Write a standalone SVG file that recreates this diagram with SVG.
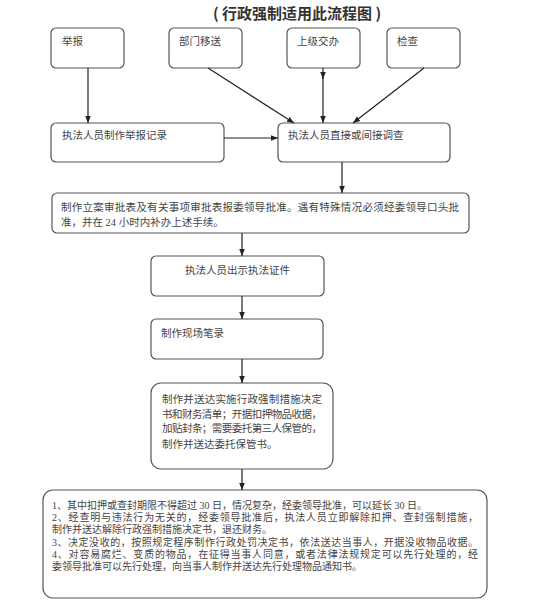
<svg xmlns="http://www.w3.org/2000/svg" width="537" height="605" viewBox="0 0 537 605">
<defs>
<marker id="ah" viewBox="0 0 10 10" refX="10" refY="5" markerWidth="7" markerHeight="7" orient="auto" markerUnits="userSpaceOnUse">
<path d="M0,1 L10,5 L0,9 Z" fill="#222"/>
</marker>
<style>
.box{fill:#fff;stroke:#555;stroke-width:1.2}
.t{font-family:"Liberation Serif","Noto Sans CJK SC",serif;font-size:10.5px;fill:#444}
.s{font-family:"Liberation Serif","Noto Sans CJK SC",serif;font-size:10px;fill:#444}
.c{fill:none;stroke:#222;stroke-width:1.2;marker-end:url(#ah)}
</style>
</defs>
<rect width="537" height="605" fill="#fff"/>
<text x="297" y="19" text-anchor="middle" font-family="'Noto Sans CJK SC','Liberation Sans',sans-serif" font-size="15" font-weight="bold" fill="#333">( 行政强制适用此流程图 )</text>

<g id="n1"><rect class="box" x="51" y="28" width="73" height="40" rx="5"/><text class="t" x="62" y="45">举报</text></g>
<g id="n2"><rect class="box" x="169" y="28" width="73" height="40" rx="5"/><text class="t" x="179" y="45">部门移送</text></g>
<g id="n3"><rect class="box" x="287" y="28" width="73" height="40" rx="5"/><text class="t" x="297" y="45">上级交办</text></g>
<g id="n4"><rect class="box" x="387" y="28" width="73" height="40" rx="5"/><text class="t" x="397" y="45">检查</text></g>
<g id="n5"><rect class="box" x="51" y="123" width="173" height="39" rx="5"/><text class="t" x="62" y="139">执法人员制作举报记录</text></g>
<g id="n6"><rect class="box" x="278" y="123" width="172" height="39" rx="5"/><text class="t" x="288" y="139">执法人员直接或间接调查</text></g>
<g id="n7"><rect class="box" x="52" y="193" width="417" height="40" rx="5"/>
<text class="t" x="61" y="211" textLength="398">制作立案审批表及有关事项审批表报委领导批准。遇有特殊情况必须经委领导口头批</text>
<text class="t" x="61" y="226">准，并在 24 小时内补办上述手续。</text></g>
<g id="n8"><rect class="box" x="151" y="256" width="173" height="40" rx="5"/><text class="t" x="185" y="274">执法人员出示执法证件</text></g>
<g id="n9"><rect class="box" x="151" y="319" width="172" height="40" rx="5"/><text class="t" x="161" y="337">制作现场笔录</text></g>
<g id="n10"><rect class="box" x="151" y="383" width="182" height="86" rx="10"/>
<text class="t" x="162" y="403" textLength="160">制作并送达实施行政强制措施决定</text>
<text class="t" x="162" y="418" textLength="160">书和财务清单；开据扣押物品收据，</text>
<text class="t" x="162" y="432" textLength="160">加贴封条；需要委托第三人保管的，</text>
<text class="t" x="162" y="448">制作并送达委托保管书。</text></g>
<g id="n11"><rect class="box" x="43" y="490" width="444" height="108" rx="10"/>
<text class="s" x="52" y="509">1、其中扣押或查封期限不得超过 30 日，情况复杂，经委领导批准，可以延长 30 日。</text>
<text class="s" x="52" y="521" textLength="426">2、经查明与违法行为无关的，经委领导批准后，执法人员立即解除扣押、查封强制措施，</text>
<text class="s" x="52" y="533">制作并送达解除行政强制措施决定书，退还财务。</text>
<text class="s" x="52" y="546" textLength="426">3、决定没收的，按照规定程序制作行政处罚决定书，依法送达当事人，开据没收物品收据。</text>
<text class="s" x="52" y="558" textLength="426">4、对容易腐烂、变质的物品，在征得当事人同意，或者法律法规规定可以先行处理的，经</text>
<text class="s" x="52" y="570">委领导批准可以先行处理，向当事人制作并送达先行处理物品通知书。</text></g>

<g id="connectors">
<path class="c" d="M88,68 L88,123"/>
<path class="c" d="M208,68 L294,123"/>
<path class="c" d="M323,68 L323,79"/>
<path class="c" d="M323,78 L323,123"/>
<path class="c" d="M424,68 L353,123"/>
<path class="c" d="M224,138 L278,138"/>
<path class="c" d="M342,162 L342,193"/>
<path class="c" d="M242,233 L242,256"/>
<path class="c" d="M242,296 L242,319"/>
<path class="c" d="M242,359 L242,383"/>
<path class="c" d="M242,469 L242,490"/>
</g>
</svg>
